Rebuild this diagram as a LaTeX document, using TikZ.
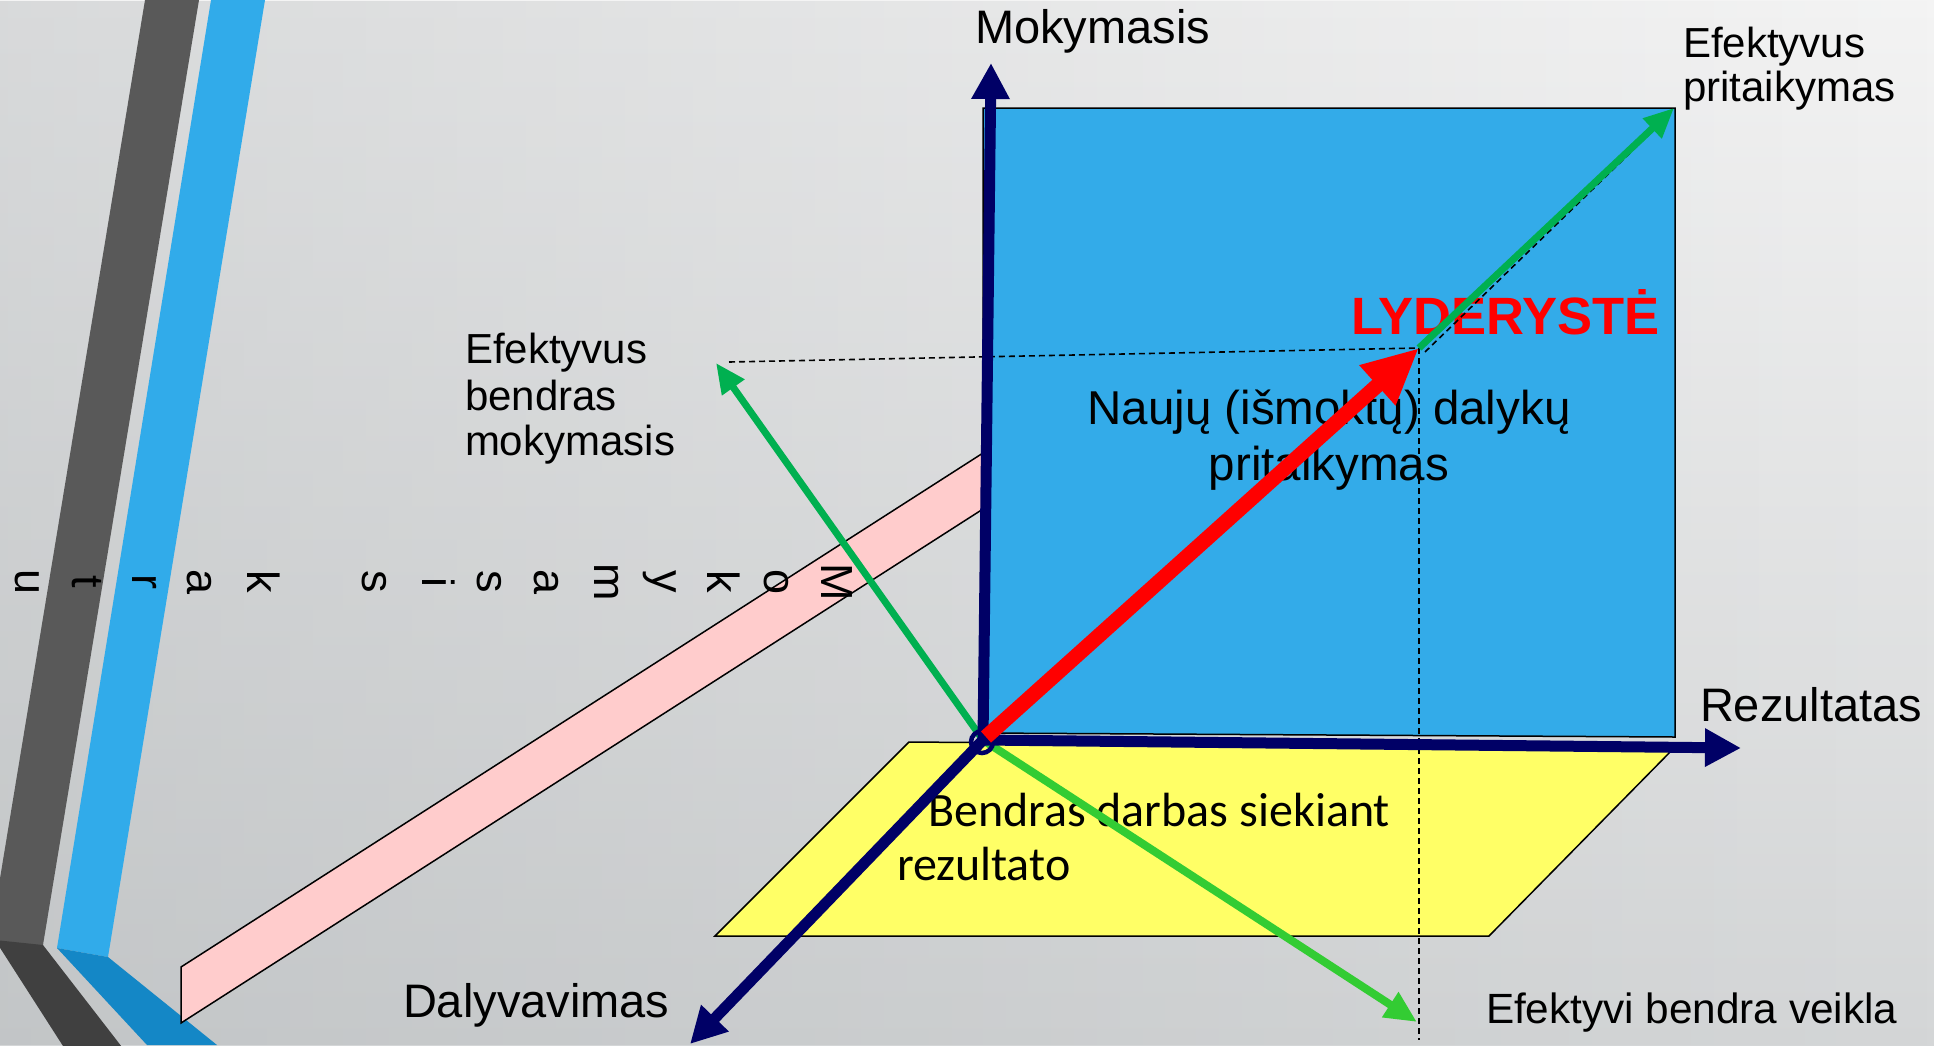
\documentclass[tikz,border=0pt]{standalone}
\usepackage{fontspec}
\setmainfont{Liberation Sans}
\newfontfamily\carlitofont{Carlito}
\usetikzlibrary{arrows.meta,fadings}
\definecolor{navyax}{HTML}{000066}
\definecolor{sqblue}{HTML}{33ABE9}
\definecolor{planeyellow}{HTML}{FFFF66}
\definecolor{pinkband}{HTML}{FFCCCC}
\definecolor{gdark}{HTML}{00B050}
\definecolor{glight}{HTML}{33CC33}
\definecolor{bargray}{HTML}{595959}
\definecolor{bardark}{HTML}{404040}
\definecolor{barblue}{HTML}{31ABEA}
\definecolor{barbluedark}{HTML}{1487C6}
\definecolor{bgtop}{HTML}{F4F4F4}
\definecolor{bgbot}{HTML}{D4D6D7}
\definecolor{bgshadow}{HTML}{9EA3A6}
\tikzset{
  lbl/.style={inner sep=0pt, outer sep=0pt, anchor=base west, text=black},
  clbl/.style={inner sep=0pt, outer sep=0pt, anchor=base, text=black},
  fsmall/.style={font=\fontsize{42}{48}\selectfont},
  fmid/.style={font=\fontsize{47}{54}\selectfont},
  fbig/.style={font=\fontsize{47.5}{56}\selectfont},
  vletter/.style={inner sep=0pt, outer sep=0pt, anchor=base, rotate=-90, font=\fontsize{45}{50}\selectfont},
  axisline/.style={draw=navyax, line width=11pt, -{Triangle[length=36pt,width=36pt]}},
  gdarrow/.style={draw=gdark, line width=7pt, -{Triangle[length=30pt,width=26pt]}},
  glarrow/.style={draw=glight, line width=8pt, -{Triangle[length=32pt,width=28pt]}},
  redarrow/.style={draw=red, line width=15pt, -{Triangle[length=56pt,width=50pt]}},
  guide/.style={draw=black, line width=1.6pt, dash pattern=on 6pt off 4pt},
  plane/.style={draw=black, line width=1.5pt},
}
\begin{document}
\begin{tikzpicture}[x=1pt,y=-1pt]
\useasboundingbox (0,0) rectangle (1934,1045);
\begin{scope}
\clip (0,0) rectangle (1934,1045);
% background
\shade[top color=bgtop, bottom color=bgbot] (0,0) rectangle (1934,1045);
\fill[bgshadow, fill opacity=0.32, path fading=east] (0,0) rectangle (1934,1045);
% left decorative bars
\fill[bargray] (145,0) -- (199,0) -- (43,945) -- (-11,945) -- cycle;
\fill[bardark] (-5,940) -- (43,945) -- (132,1060) -- (72,1060) -- cycle;
\fill[barblue] (211,0) -- (265,0) -- (108,957) -- (57,948) -- cycle;
\fill[barbluedark] (57,948) -- (108,957) -- (217,1045) -- (147,1045) -- cycle;
\end{scope}

% coordinates
\coordinate (O) at (983,740);
\coordinate (mtip) at (991,63);
\coordinate (rtip) at (1741,748);
\coordinate (dtip) at (690,1044);
\coordinate (L) at (1419,348);
\coordinate (ep) at (1674,108);
\coordinate (ebm) at (716,363);
\coordinate (ebv) at (1417,1022);
\coordinate (dh) at (729,362);
\coordinate (dv) at (1419,1040);
\coordinate (gd1) at (1425,352);
\coordinate (gd2) at (1667,117);

% pink band
\filldraw[fill=pinkband, plane] (181,967) -- (983,453) -- (983,509) -- (181,1023) -- cycle;

% vertical letters "Mokymasis kartu"
\node[vletter] (v1) at (821,582) {M};
\node[vletter] (v2) at (764,582) {o};
\node[vletter] (v3) at (707,582) {k};
\node[vletter] (v4) at (652,582) {y};
\node[vletter] (v5) at (594,582) {m};
\node[vletter] (v6) at (534,582) {a};
\node[vletter] (v7) at (477,582) {s};
\node[vletter] (v8) at (422,582) {i};
\node[vletter] (v9) at (362,582) {s};
\node[vletter] (v10) at (247,582) {k};
\node[vletter] (v11) at (187,582) {a};
\node[vletter] (v12) at (132,582) {r};
\node[vletter] (v13) at (72,582) {t};
\node[vletter] (v14) at (16,582) {u};

% yellow plane
\filldraw[fill=planeyellow, plane] (909,742) -- (1674,748) -- (1489,936) -- (715,936) -- cycle;
% blue square
\filldraw[fill=sqblue, plane] (983,108) -- (1675,108) -- (1675,737) -- (983,733) -- cycle;

% texts inside planes
\node[clbl, fbig] (n1) at (1329,424) {Naujų (išmoktų) dalykų};
\node[clbl, fbig] (n2) at (1329,480) {pritaikymas};
\node[lbl, font=\carlitofont\fontsize{48}{56}\selectfont] (b1) at (928,826) {Bendras darbas siekiant};
\node[lbl, font=\carlitofont\fontsize{48}{56}\selectfont] (b2) at (897,880) {rezultato};
\node[lbl, text=red, font=\bfseries\fontsize{52.5}{58}\selectfont] (lyd) at (1351,334) {LYDERYSTĖ};

% guide lines
\draw[guide] (dh) -- (L);
\draw[guide] (L) -- (dv);
\draw[guide] (gd1) -- (gd2);

% green arrows
\draw[gdarrow] (O) -- (ebm);
\draw[gdarrow] (L) -- (ep);
\draw[glarrow] (O) -- (ebv);

% axes
\draw[axisline] (O) -- (mtip);
\draw[axisline] (O) -- (rtip);
\draw[axisline] (O) -- (dtip);
\draw[draw=navyax, line width=4.5pt] (982,742) circle (11pt);

% red arrow
\draw[redarrow] (986,737) -- (L);

% outer labels
\node[lbl, fmid] (mok) at (975,43) {Mokymasis};
\node[lbl, fmid] (rez) at (1700,721) {Rezultatas};
\node[lbl, fmid] (dal) at (403,1017) {Dalyvavimas};
\node[lbl, fsmall] (ep1) at (1683,57) {Efektyvus};
\node[lbl, fsmall] (ep2) at (1683,101) {pritaikymas};
\node[lbl, fsmall] (ebm1) at (465,363) {Efektyvus};
\node[lbl, fsmall] (ebm2) at (465,410) {bendras};
\node[lbl, fsmall] (ebm3) at (465,455) {mokymasis};
\node[lbl, font=\fontsize{42.3}{48}\selectfont] (ebv1) at (1486,1023) {Efektyvi bendra veikla};
\end{tikzpicture}
\end{document}
